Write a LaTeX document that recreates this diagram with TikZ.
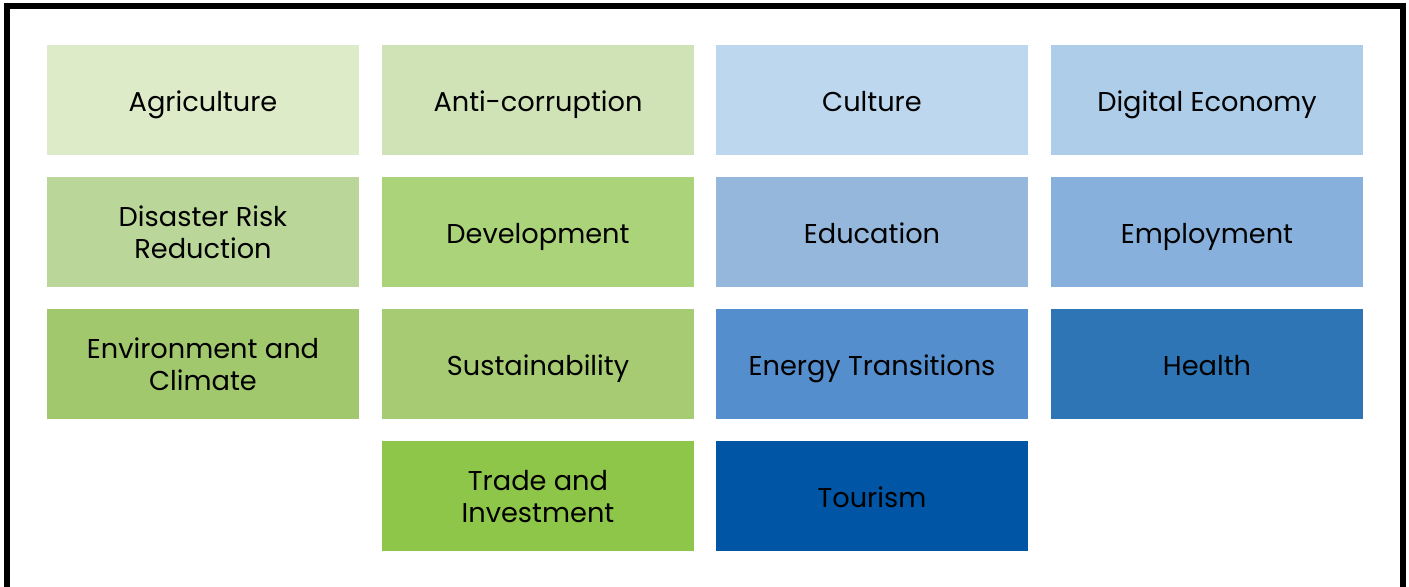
\documentclass[tikz,border=0pt]{standalone}
\usepackage{fontspec}
\setmainfont{Poppins}
\usepackage{tikz}

\definecolor{agri}{HTML}{DEEBC9}
\definecolor{anti}{HTML}{D0E3B6}
\definecolor{cult}{HTML}{BDD7EE}
\definecolor{digi}{HTML}{AECDE9}
\definecolor{disa}{HTML}{BBD699}
\definecolor{deve}{HTML}{ABD379}
\definecolor{educ}{HTML}{95B7DB}
\definecolor{empl}{HTML}{87B1DC}
\definecolor{envi}{HTML}{A2C86D}
\definecolor{sust}{HTML}{A7CB73}
\definecolor{ener}{HTML}{558ECC}
\definecolor{heal}{HTML}{2E75B6}
\definecolor{trad}{HTML}{8DC648}
\definecolor{tour}{HTML}{0055A5}

\tikzset{
    topic/.style={minimum width=6.24cm, minimum height=2.2cm, inner sep=0pt,
        align=center, font=\fontsize{15.5}{18}\selectfont,
        execute at begin node={\rule{0pt}{18.2pt}}, execute at end node=\strut},
    twoline/.style={execute at begin node={\rule{0pt}{35pt}}}
}

\begin{document}
\begin{tikzpicture}[x=0.02cm, y=-0.02cm]
        \useasboundingbox (0,0) rectangle (1409,587);
        \draw[line width=0.12cm] (7,590) |- (1402.5,6) -- (1402.5,590);

        % first row
        \node[topic, fill=agri] (agriculture) at (203,100) {Agriculture};
        \node[topic, fill=anti] (anticorruption) at (538,100) {Anti-corruption};
        \node[topic, fill=cult] (culture) at (872,100) {Culture};
        \node[topic, fill=digi] (digital) at (1207,100) {Digital Economy};

        % second row
        \node[topic, twoline, fill=disa] (disaster) at (203,232) {Disaster Risk\\Reduction};
        \node[topic, fill=deve] (development) at (538,232) {Development};
        \node[topic, fill=educ] (education) at (872,232) {Education};
        \node[topic, fill=empl] (employment) at (1207,232) {Employment};

        % third row
        \node[topic, twoline, fill=envi] (environment) at (203,364) {Environment and\\Climate};
        \node[topic, fill=sust] (sustainability) at (538,364) {Sustainability};
        \node[topic, fill=ener] (energy) at (872,364) {Energy Transitions};
        \node[topic, fill=heal] (health) at (1207,364) {Health};

        % last row
        \node[topic, twoline, fill=trad] (trade) at (538,496) {Trade and\\Investment};
        \node[topic, fill=tour] (tourism) at (872,496) {Tourism};
    \end{tikzpicture}
\end{document}
